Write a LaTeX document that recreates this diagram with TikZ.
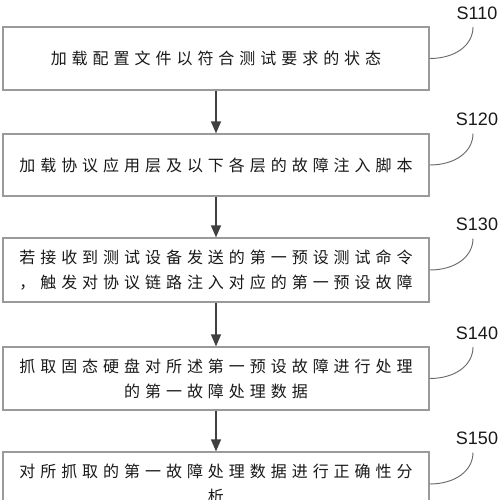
\documentclass[tikz,border=0pt]{standalone}
\usepackage{fontspec}
\usepackage{tikz}
\usetikzlibrary{arrows.meta}
\setmainfont{Liberation Sans}
\newfontfamily\cjk{Noto Sans CJK SC}[LetterSpace=31]
\definecolor{myboxcolor}{HTML}{9a9a9a}
\definecolor{myarrowcolor}{HTML}{404040}
\definecolor{mycurvecolor}{HTML}{6a6a6a}
\tikzset{
  stepbox/.style={draw=myboxcolor, line width=0.9pt, fill=white, rectangle, inner sep=0pt, align=center, minimum width=319.5pt, text=black!90, font=\fontsize{12pt}{18.75pt}\cjk},
  flowarrow/.style={draw=myarrowcolor, line width=0.9pt, -{Triangle[width=7.5pt, length=9pt]}},
  steplabel/.style={inner sep=0pt, text=black!90, font=\fontsize{13.5pt}{13.5pt}\selectfont},
  callout/.style={draw=mycurvecolor, line width=0.7pt}
}

\begin{document}
\begin{tikzpicture}[x=0.75pt, y=-0.75pt]%
\useasboundingbox (0,0) rectangle (500,500);%
\clip (0,0) rectangle (500,500);%
\node[stepbox, minimum height=47.25pt] (s110) at (216, 58.5) {加载配置文件以符合测试要求的状态};%
\node[stepbox, minimum height=46.5pt] (s120) at (216, 165) {加载协议应用层及以下各层的故障注入脚本};%
\node[stepbox, minimum height=48pt] (s130) at (216, 270) {若接收到测试设备发送的第一预设测试命令\\，触发对协议链路注入对应的第一预设故障};%
\node[stepbox, minimum height=47.25pt] (s140) at (216, 378.5) {抓取固态硬盘对所述第一预设故障进行处理\\的第一故障处理数据};%
\node[stepbox, minimum height=48pt] (s150) at (216, 484) {对所抓取的第一故障处理数据进行正确性分\\析};%
\draw[flowarrow] (s110) -- (s120);%
\draw[flowarrow] (s120) -- (s130);%
\draw[flowarrow] (s130) -- (s140);%
\draw[flowarrow] (s140) -- (s150);%
\node[steplabel] (l110) at (477, 13) {S110};%
\node[steplabel] (l120) at (477, 119.5) {S120};%
\node[steplabel] (l130) at (477, 224.5) {S130};%
\node[steplabel] (l140) at (477, 333) {S140};%
\node[steplabel] (l150) at (477, 438.5) {S150};%
\coordinate (c110) at (473, 27);%
\coordinate (c120) at (473, 133.5);%
\coordinate (c130) at (473, 238.5);%
\coordinate (c140) at (473, 347);%
\coordinate (c150) at (473, 452.5);%
\draw[callout] (s110.east) .. controls +(26,0) and +(0,18) .. (c110);%
\draw[callout] (s120.east) .. controls +(26,0) and +(0,18) .. (c120);%
\draw[callout] (s130.east) .. controls +(26,0) and +(0,18) .. (c130);%
\draw[callout] (s140.east) .. controls +(26,0) and +(0,18) .. (c140);%
\draw[callout] (s150.east) .. controls +(26,0) and +(0,18) .. (c150);%
\end{tikzpicture}
\end{document}
